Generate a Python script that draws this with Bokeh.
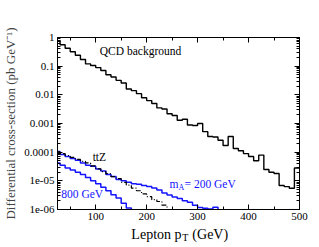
import json
import math
from bokeh.plotting import figure
from bokeh.layouts import column
from bokeh.models import FixedTicker, LinearAxis, LogAxis, Label, CustomJSTickFormatter
from bokeh.embed import file_html
from bokeh.resources import INLINE

# ---------------- data ----------------
BIN_START = 20      # GeV, left edge of first bin
BIN_WIDTH = 10      # GeV

qcd = [0.76, 0.56, 0.42, 0.32, 0.24, 0.17, 0.12, 0.105, 0.089, 0.071,
       0.05, 0.042, 0.032, 0.026, 0.016, 0.014, 0.011, 0.0079, 0.0063, 0.005,
       0.0035, 0.0032, 0.0022, 0.0019, 0.0013, 0.0014, 0.00089, 0.00085, 0.001, 0.00052,
       0.00035, 0.00034, 0.00026, 0.00017, 0.00035, 0.000135, 0.000112, 8.9e-5, 7.1e-5, 5.0e-5,
       7.9e-5, 2.5e-5, 2.0e-5, 1.8e-5, 6.9e-6, 6.3e-6, 5.5e-6, 2.8e-5]

sig_200 = [1.05e-4, 8.3e-5, 7.1e-5, 6.0e-5, 5.2e-5, 4.2e-5, 3.5e-5, 3.2e-5, 2.6e-5, 2.2e-5,
           1.66e-5, 1.41e-5, 1.12e-5, 1.0e-5, 8.9e-6, 7.9e-6, 7.6e-6, 6.9e-6, 6.3e-6, 5.6e-6,
           4.8e-6, 3.8e-6, 3.2e-6, 2.75e-6, 2.4e-6, 2.0e-6, 1.78e-6, 1.41e-6, 1.17e-6, 1.1e-6,
           1.05e-6, 1.2e-6]

sig_800 = [4.2e-5, 3.5e-5, 2.8e-5, 2.4e-5, 2.0e-5, 1.66e-5, 1.32e-5, 1.0e-5, 7.9e-6, 6.0e-6,
           4.5e-6, 3.3e-6, 2.5e-6, 1.66e-6, 1.12e-6, 5e-7]

ttz = [1.05e-4, 8.9e-5, 7.6e-5, 6.6e-5, 5.6e-5, 4.8e-5, 4.2e-5, 3.3e-5, 2.6e-5, 2.1e-5,
       1.78e-5, 1.41e-5, 1.2e-5, 8.9e-6, 7.1e-6, 5.6e-6, 4.5e-6, 3.5e-6, 2.8e-6, 2.2e-6,
       1.9e-6, 1.41e-6, 1.0e-6, 6.3e-7]

x_major = [100, 200, 300, 400, 500]
x_minor = [50, 150, 250, 350, 450]
y_major = [1e-6, 1e-5, 1e-4, 1e-3, 1e-2, 1e-1, 1.0]
y_labels = ["1e-06", "1e-05", "0.0001", "0.001", "0.01", "0.1", "1"]
y_minor = [m * 10.0 ** e for e in range(-6, 0) for m in range(2, 10)]

EMPTY = 1e-9  # empty bins after a histogram ends

FONT = "Liberation Serif"
BLUE = "#1414ff"
W = 310


def step_xy(vals, close=True):
    xs = [BIN_START + BIN_WIDTH * i for i in range(len(vals) + 1)]
    ys = list(vals) + ([EMPTY] if close else [vals[-1]])
    return xs, ys


# ---------------- figure ----------------
p = figure(width=W, height=226, x_range=(25, 500), y_range=(1e-6, 1.0),
           y_axis_type="log", output_backend="svg", toolbar_location=None,
           min_border_left=54, min_border_right=11, min_border_top=37, min_border_bottom=17)
p.xgrid.visible = False
p.ygrid.visible = False
p.outline_line_color = "black"
p.outline_line_width = 1
p.background_fill_color = "white"
p.border_fill_color = "white"

xt = FixedTicker(ticks=x_major, minor_ticks=x_minor)
yt = FixedTicker(ticks=y_major, minor_ticks=y_minor)
lab_map = {str(round(math.log10(v))): s for v, s in zip(y_major, y_labels)}
yfmt = CustomJSTickFormatter(code="const m = %s; return m[String(Math.round(Math.log10(tick)))];"
                             % json.dumps(lab_map))
blank = CustomJSTickFormatter(code="return '';")


def style(ax, show):
    ax.major_tick_in = 5
    ax.major_tick_out = 0
    ax.minor_tick_in = 3
    ax.minor_tick_out = 0
    ax.axis_line_color = "black"
    ax.major_tick_line_color = "black"
    ax.minor_tick_line_color = "black"
    ax.major_label_text_font = FONT
    ax.major_label_text_color = "black"
    ax.major_label_text_font_size = "11px"
    ax.major_label_standoff = 3 if show else 0


xa = p.xaxis[0]
xa.ticker = xt
style(xa, True)
ya = p.yaxis[0]
ya.ticker = yt
ya.formatter = yfmt
style(ya, True)
ya.axis_label = "Differential cross-section (pb GeV\u207b\u00b9)"
ya.axis_label_text_font = FONT
ya.axis_label_text_font_size = "13px"
ya.axis_label_text_font_style = "normal"
ya.axis_label_standoff = 3

top = LinearAxis(ticker=xt, formatter=blank)
style(top, False)
p.add_layout(top, "above")
right = LogAxis(ticker=yt, formatter=blank)
style(right, False)
p.add_layout(right, "right")

# ---------------- series ----------------
x, y = step_xy(qcd, close=False)
p.step(x, y, mode="after", line_color="black", line_width=1.4)
x, y = step_xy(sig_200)
p.step(x, y, mode="after", line_color=BLUE, line_width=1.5)
x, y = step_xy(sig_800)
p.step(x, y, mode="after", line_color=BLUE, line_width=1.5)
x, y = step_xy(ttz)
p.step(x, y, mode="after", line_color="black", line_width=1.2, line_dash="5 2 1 2")


# ---------------- annotations ----------------
def lab(fig, x, y, text, size="11.5px", color="black", baseline="middle", **kw):
    fig.add_layout(Label(x=x, y=y, text=text, text_font=FONT, text_font_size=size,
                         text_color=color, text_baseline=baseline, **kw))


lab(p, 108, 0.35, "QCD background")
lab(p, 94, 6.6e-5, "ttZ")
lab(p, 32.5, 3.6e-6, "800 GeV", color=BLUE)
lab(p, 245, 7.6e-6, "m", color=BLUE)
lab(p, 245, 7.6e-6, "A", size="8px", color=BLUE, x_offset=9, y_offset=-3)
lab(p, 245, 7.6e-6, "= 200 GeV", color=BLUE, x_offset=15)

# x-axis title with subscript, in a strip below the plot sharing its x scale
xf = figure(width=W, height=20, x_range=p.x_range, y_range=(0, 1),
            output_backend="svg", toolbar_location=None,
            x_axis_location=None, y_axis_location=None,
            min_border_left=54, min_border_right=11, min_border_top=0, min_border_bottom=0)
xf.xgrid.visible = False
xf.ygrid.visible = False
xf.outline_line_color = None
xf.border_fill_color = "white"
xf.background_fill_color = "white"
lab(xf, 170, 0.62, "Lepton p", size="14px", baseline="alphabetic")
lab(xf, 170, 0.62, "T", size="10px", baseline="alphabetic", x_offset=51, y_offset=-3)
lab(xf, 170, 0.62, "(GeV)", size="14px", baseline="alphabetic", x_offset=61)

layout = column(p, xf, spacing=0)
open("out.html", "w").write(file_html(layout, INLINE))
